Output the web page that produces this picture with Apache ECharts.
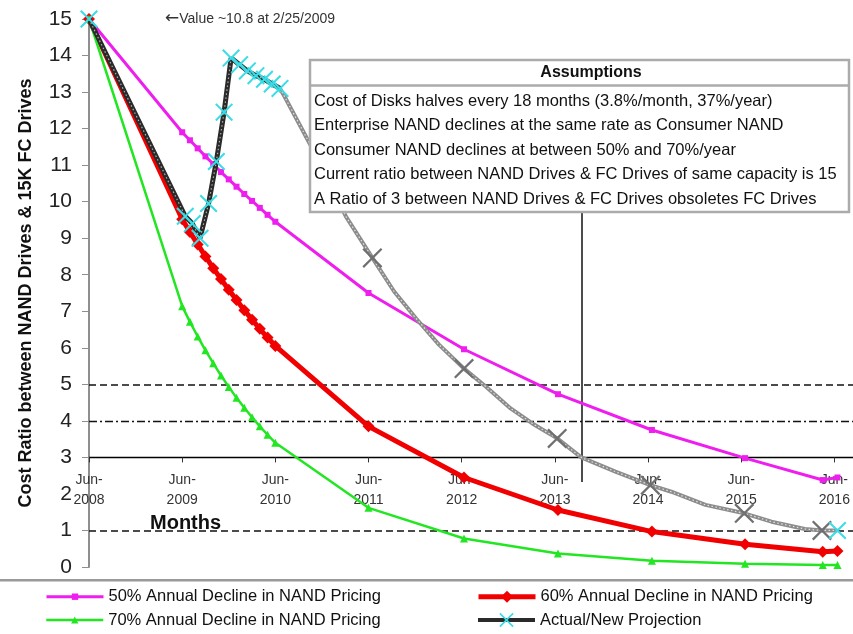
<!DOCTYPE html>
<html><head><meta charset="utf-8">
<script src="https://cdn.jsdelivr.net/npm/echarts@6/dist/echarts.min.js"></script>
<style>html,body{margin:0;padding:0;background:#fff}#c{width:853px;height:634px}</style>
</head><body><div id="c"></div><script>
// ---- data (months counted from Jun-2008) ----
const xTickLabels = ['Jun-2008','Jun-2009','Jun-2010','Jun-2011','Jun-2012','Jun-2013','Jun-2014','Jun-2015','Jun-2016'];
const scenarioMonths = [0,12,13,14,15,16,17,18,19,20,21,22,23,24,36,48.3,60.4,72.5,84.5,94.5,96.4];
const decline50 = [15,11.9,11.68,11.46,11.24,11.03,10.81,10.61,10.41,10.21,10.02,9.83,9.64,9.45,7.5,5.96,4.73,3.75,2.98,2.38,2.45];
const decline60 = [15,9.52,9.17,8.83,8.5,8.18,7.88,7.59,7.31,7.03,6.77,6.52,6.28,6.05,3.85,2.45,1.56,0.97,0.62,0.42,0.44];
const decline70 = [15,7.14,6.71,6.31,5.93,5.58,5.24,4.93,4.63,4.36,4.1,3.85,3.62,3.4,1.62,0.78,0.37,0.17,0.09,0.055,0.055];
const actualMonths = [0,12.4,13.3,14.3,15.4,16.4,17.4,18.3,19.4,20.4,21.5,22.6,23.6,24.6];
const actualValues = [15,9.6,9.4,9.0,9.95,11.1,12.45,13.93,13.75,13.58,13.45,13.35,13.22,13.1];
const projMonths = [24.6,25.2,28.4,33.1,36.5,39.3,42.1,45.1,48.3,51.1,54.3,57.1,60.3,63.4,67.8,72.3,75,79.4,84.4,87.9,92.2,94.4,96.4];
const projValues = [13.1,12.87,11.6,9.59,8.46,7.54,6.81,6.08,5.43,4.94,4.34,3.93,3.52,3.0,2.61,2.24,2.06,1.7,1.47,1.24,1.04,1.0,1.0];
const checkpointMonths = [36.5,48.3,60.3,72.3,84.4,94.4];
const checkpointValues = [8.46,5.43,3.52,2.24,1.47,1.0];
const endMonths = [96.4];
const endValues = [1.0];
const refLevels = [5,4,1];
const crossMonth = 63.4;
const crossSpan = [9.72, 2.33];
const seriesNames = ['50% Annual Decline in NAND Pricing','60% Annual Decline in NAND Pricing','70% Annual Decline in NAND Pricing','Actual/New Projection'];
const assumptions = [
  'Cost of Disks halves every 18 months (3.8%/month, 37%/year)',
  'Enterprise NAND declines at the same rate as Consumer NAND',
  'Consumer NAND declines at between 50% and 70%/year',
  'Current ratio between NAND Drives & FC Drives of same capacity is 15',
  'A Ratio of 3 between NAND Drives & FC Drives obsoletes FC Drives'
];

const zip = (a, b) => a.map((v, i) => [v, b[i]]);
const FONT = "'Liberation Sans', Arial, sans-serif";
const XSYM = 'path://M0,8 L8,0 L50,42 L92,0 L100,8 L58,50 L100,92 L92,100 L50,58 L8,100 L0,92 L42,50 Z';
const CYAN = '#3ADCE6', PINK = '#EE1EEE', RED = '#F00000', GREEN = '#22E622';

const chart = echarts.init(document.getElementById('c'), null, {renderer: 'canvas'});

const boxX = 310, boxY = 60, boxW = 539, boxH = 152;
const graphics = [
  {type:'rect', z:100, shape:{x:boxX, y:boxY, width:boxW, height:boxH}, style:{fill:'#fff', stroke:'#ababab', lineWidth:2.5}},
  {type:'line', z:101, shape:{x1:boxX, y1:85.5, x2:boxX+boxW, y2:85.5}, style:{stroke:'#ababab', lineWidth:2.5}},
  {type:'text', z:102, x:591, y:73, style:{text:'Assumptions', font:'bold 16px ' + FONT, fill:'#111', align:'center', verticalAlign:'middle'}},
  {type:'rect', z:100, shape:{x:0, y:579, width:853, height:2.6}, style:{fill:'#999'}},
  {type:'text', z:50, x:150, y:523, style:{text:'Months', font:'bold 20px ' + FONT, fill:'#111', align:'left', verticalAlign:'middle'}},
  {type:'text', z:50, x:165, y:19, style:{text:'{a|\u2190}Value ~10.8 at 2/25/2009', font:'14px ' + FONT, fill:'#333', align:'left', verticalAlign:'middle',
    rich:{a:{fontSize:17, fontFamily:"'DejaVu Sans', sans-serif", fill:'#333'}}}}
];
assumptions.forEach((t, i) => graphics.push({type:'text', z:102, x:314, y:101 + i*24.5,
  style:{text:t, font:'16.5px ' + FONT, fill:'#111', align:'left', verticalAlign:'middle'}}));

function legendAt(name, left, top, h, lw) {
  return {data:[name], left:left, top:top, padding:0, itemWidth:57, itemHeight:h, itemGap:0,
    selectedMode:false, lineStyle:{width:lw}, textStyle:{fontSize:16.5, fontFamily:FONT, color:'#111', lineHeight:20}};
}

const option = {
  animation: false,
  backgroundColor: '#fff',
  grid: {left: 89, right: 0, top: 19, bottom: 67, containLabel: false},
  xAxis: {
    type: 'value', min: 0, max: 98.4, interval: 12, offset: -109.6,
    axisLine: {show: true, onZero: false, lineStyle: {color: '#000', width: 1.3}},
    axisTick: {show: true, length: 5, lineStyle: {color: '#333'}},
    splitLine: {show: false},
    axisLabel: {
      showMaxLabel: false, margin: 13, fontSize: 14, fontFamily: FONT, color: '#333', lineHeight: 20,
      formatter: v => {
        const i = Math.round(v / 12);
        if (Math.abs(v - i * 12) > 1e-6 || i >= xTickLabels.length) return '';
        const p = xTickLabels[i].split('-');
        return p[0] + '-\n' + p[1];
      }
    }
  },
  yAxis: {
    type: 'value', min: 0, max: 15, interval: 1,
    name: 'Cost Ratio between NAND Drives & 15K FC Drives', nameLocation: 'middle', nameGap: 54,
    nameTextStyle: {fontSize: 18, fontWeight: 'bold', fontFamily: FONT, color: '#111'},
    axisLine: {show: true, lineStyle: {color: '#8f8f8f', width: 2}},
    axisTick: {show: true, length: 7, lineStyle: {color: '#8f8f8f'}},
    splitLine: {show: false},
    axisLabel: {fontSize: 21, fontFamily: FONT, color: '#222', margin: 17}
  },
  legend: [
    legendAt(seriesNames[0], 45, 586.7, 8, 3),
    legendAt(seriesNames[1], 476, 586.7, 15, 5),
    legendAt(seriesNames[2], 45, 610, 9, 2.5),
    legendAt(seriesNames[3], 476, 610, 18, 4)
  ],
  graphic: graphics,
  series: [
    {name: seriesNames[0], type: 'line', z: 2, data: zip(scenarioMonths, decline50),
      symbol: 'rect', symbolSize: 6, showAllSymbol: true,
      lineStyle: {color: PINK, width: 3}, itemStyle: {color: PINK},
      markLine: {silent: true, symbol: ['none', 'none'], label: {show: false}, z: 1,
        lineStyle: {color: '#111', width: 1.6},
        data: [
          {yAxis: refLevels[0], lineStyle: {type: [7, 4], color: '#111', width: 1.6}},
          {yAxis: refLevels[1], lineStyle: {type: [8, 3, 2, 3], color: '#111', width: 1.4}},
          {yAxis: refLevels[2], lineStyle: {type: [7, 4], color: '#111', width: 1.6}},
          [{coord: [crossMonth, crossSpan[0]], lineStyle: {type: 'solid', color: '#111', width: 1.5}}, {coord: [crossMonth, crossSpan[1]]}]
        ]}},
    {name: seriesNames[1], type: 'line', z: 3, data: zip(scenarioMonths, decline60),
      symbol: 'diamond', symbolSize: 12, showAllSymbol: true,
      lineStyle: {color: RED, width: 5}, itemStyle: {color: RED}},
    {name: seriesNames[2], type: 'line', z: 4, data: zip(scenarioMonths, decline70),
      symbol: 'triangle', symbolSize: 8, showAllSymbol: true,
      lineStyle: {color: GREEN, width: 2.5}, itemStyle: {color: GREEN}},
    {name: 'projection', type: 'line', z: 5, data: zip(projMonths, projValues), symbol: 'none',
      lineStyle: {color: '#8c8c8c', width: 4}},
    {name: 'projectionHatch', type: 'line', z: 5, data: zip(projMonths, projValues), symbol: 'none',
      lineStyle: {color: '#e2e2e2', width: 1.2, type: [1.5, 2.5]}},
    {name: 'checkpoints', type: 'scatter', z: 7, data: zip(checkpointMonths, checkpointValues),
      symbol: XSYM, symbolSize: 20, itemStyle: {color: '#707070', opacity: 1}},
    {name: seriesNames[3], type: 'line', z: 6, data: zip(actualMonths, actualValues),
      symbol: XSYM, symbolSize: 18, showAllSymbol: true,
      lineStyle: {color: '#2a2a2a', width: 5}, itemStyle: {color: CYAN}},
    {name: 'actualHatch', type: 'line', z: 6, data: zip(actualMonths, actualValues), symbol: 'none',
      lineStyle: {color: '#b0b0b0', width: 1.2, type: [1.5, 2.5]}},
    {name: 'end', type: 'scatter', z: 8, data: zip(endMonths, endValues),
      symbol: XSYM, symbolSize: 18, itemStyle: {color: CYAN, opacity: 1}}
  ]
};
chart.setOption(option);
</script></body></html>
